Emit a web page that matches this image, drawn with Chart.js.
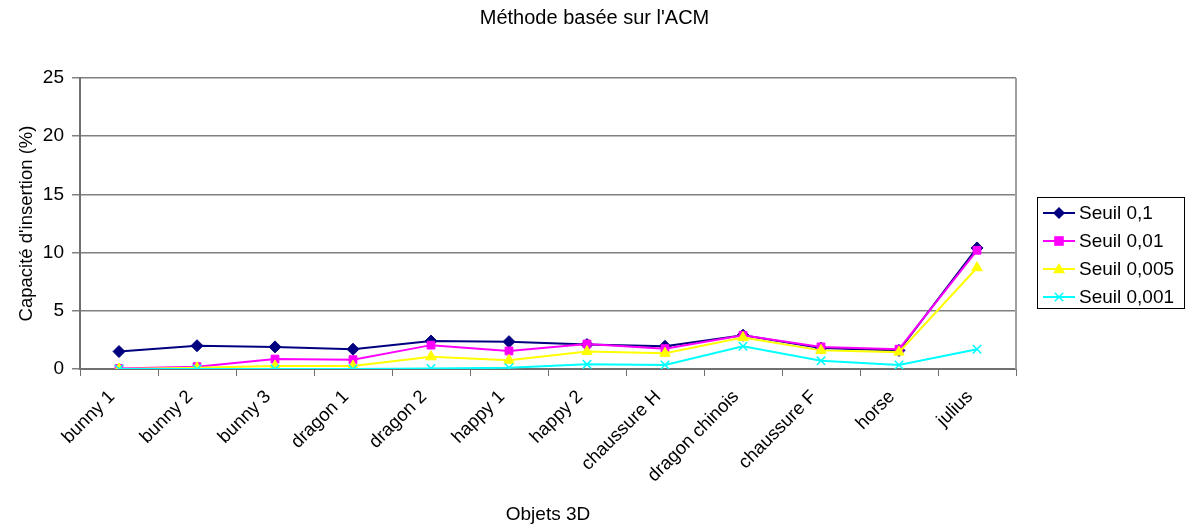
<!DOCTYPE html>
<html>
<head>
<meta charset="utf-8">
<script src="https://cdn.jsdelivr.net/npm/chart.js"></script>
<style>
  body { margin: 0; background: #fff; }
  #wrap { width: 1189px; height: 530px; }
</style>
</head>
<body>
<div id="wrap"><canvas id="chart" width="1189" height="530"></canvas></div>
<script>
// DATA
const objets = ["bunny 1", "bunny 2", "bunny 3", "dragon 1", "dragon 2", "happy 1",
  "happy 2", "chaussure H", "dragon chinois", "chaussure F", "horse", "julius"];

const seuil_01 = [1.5, 2.0, 1.9, 1.7, 2.4, 2.35, 2.1, 1.95, 2.9, 1.8, 1.6, 10.4];
const seuil_001 = [0.05, 0.2, 0.85, 0.8, 2.05, 1.55, 2.15, 1.75, 2.9, 1.9, 1.7, 10.2];
const seuil_0005 = [0, 0.1, 0.25, 0.25, 1.05, 0.75, 1.5, 1.35, 2.7, 1.6, 1.45, 8.7];
const seuil_0001 = [0, 0, 0, 0, 0.05, 0.1, 0.4, 0.35, 1.95, 0.7, 0.35, 1.7];

const y_ticks = [0, 5, 10, 15, 20, 25];

const FONT = "'Liberation Sans', Arial, sans-serif";
Chart.defaults.font.family = FONT;
Chart.defaults.color = "#000";

function serie(label, data, color, style, radius, order) {
  return {
    label: label,
    data: data,
    borderColor: color,
    backgroundColor: color,
    borderWidth: 2,
    pointStyle: style,
    pointRadius: radius,
    pointHoverRadius: radius,
    pointBorderWidth: style == "crossRot" ? 1.5 : 1,
    tension: 0,
    fill: false,
    order: order,
  };
}

// small marker for the legend
function drawMarker(ctx, style, x, y, r, color) {
  ctx.save();
  ctx.fillStyle = color;
  ctx.strokeStyle = color;
  ctx.lineWidth = 1.5;
  ctx.beginPath();
  if (style == "rectRot") {
    ctx.moveTo(x, y - r); ctx.lineTo(x + r, y); ctx.lineTo(x, y + r); ctx.lineTo(x - r, y);
    ctx.closePath(); ctx.fill();
  } else if (style == "rect") {
    ctx.rect(x - r * 0.8, y - r * 0.8, r * 1.6, r * 1.6); ctx.fill();
  } else if (style == "triangle") {
    ctx.moveTo(x, y - r); ctx.lineTo(x + r, y + r * 0.7); ctx.lineTo(x - r, y + r * 0.7);
    ctx.closePath(); ctx.fill();
  } else {
    ctx.moveTo(x - r * 0.7, y - r * 0.7); ctx.lineTo(x + r * 0.7, y + r * 0.7);
    ctx.moveTo(x + r * 0.7, y - r * 0.7); ctx.lineTo(x - r * 0.7, y + r * 0.7);
    ctx.stroke();
  }
  ctx.restore();
}

// legend box + right border of the plot
const excelLegend = {
  id: "excelLegend",
  afterDraw(chart) {
    const ctx = chart.ctx;
    const area = chart.chartArea;
    ctx.save();
    ctx.strokeStyle = "#a0a0a0";
    ctx.lineWidth = 2;
    ctx.beginPath();
    ctx.moveTo(area.right, area.top);
    ctx.lineTo(area.right, area.bottom);
    ctx.stroke();

    const left = area.right + 21, top = 197, w = 147, h = 111;
    ctx.strokeStyle = "#000";
    ctx.lineWidth = 1;
    ctx.strokeRect(left + 0.5, top + 0.5, w, h);
    ctx.font = "19px " + FONT;
    ctx.textBaseline = "middle";
    chart.data.datasets.forEach((ds, i) => {
      const y = top + 16 + i * 28;
      ctx.strokeStyle = ds.borderColor;
      ctx.lineWidth = 2;
      ctx.beginPath();
      ctx.moveTo(left + 6, y);
      ctx.lineTo(left + 38, y);
      ctx.stroke();
      drawMarker(ctx, ds.pointStyle, left + 22, y, 6, ds.borderColor);
      ctx.fillStyle = "#000";
      ctx.fillText(ds.label, left + 42, y + 1);
    });
    ctx.restore();
  }
};

const ctx = document.getElementById("chart").getContext("2d");
const my_chart = new Chart(ctx, {
  type: "line",
  data: {
    labels: objets,
    datasets: [
      serie("Seuil 0,1", seuil_01, "#000080", "rectRot", 6, 4),
      serie("Seuil 0,01", seuil_001, "#ff00ff", "rect", 5.5, 3),
      serie("Seuil 0,005", seuil_0005, "#ffff00", "triangle", 6, 2),
      serie("Seuil 0,001", seuil_0001, "#00ffff", "crossRot", 6, 1),
    ],
  },
  options: {
    responsive: false,
    animation: false,
    layout: { padding: 0 },
    plugins: {
      legend: { display: false },
      tooltip: { enabled: false },
      title: {
        display: true,
        text: "Méthode basée sur l'ACM",
        font: { size: 20, weight: "normal" },
        color: "#000",
        padding: { top: 6, bottom: 48 },
      },
    },
    scales: {
      x: {
        offset: true,
        afterFit(scale) { scale.height = 161; },
        grid: {
          offset: true,
          drawOnChartArea: false,
          drawTicks: true,
          tickLength: 7,
          color: "#707070",
        },
        border: { color: "#707070", width: 2 },
        ticks: {
          font: { size: 18.5 },
          color: "#000",
          minRotation: 45,
          maxRotation: 45,
          autoSkip: false,
          padding: 10,
          labelOffset: -7,
        },
        title: {
          display: true,
          text: "Objets 3D",
          font: { size: 19 },
          color: "#000",
          padding: { top: 4, bottom: 4 },
        },
      },
      y: {
        min: 0,
        max: 25,
        afterFit(scale) { scale.width = 80; },
        afterBuildTicks(scale) { scale.ticks = y_ticks.map(v => ({ value: v })); },
        grid: {
          color: "#808080",
          lineWidth: 1.5,
          tickLength: 8,
        },
        border: { color: "#707070", width: 2 },
        ticks: {
          font: { size: 19 },
          color: "#000",
          padding: 8,
        },
        title: {
          display: true,
          text: "Capacité d'insertion (%)",
          font: { size: 18.5 },
          color: "#000",
          padding: { top: 16, bottom: 0 },
        },
      },
      // empty right axis: keeps room for the legend while the title stays centred on the page
      y_legend: {
        position: "right",
        min: 0,
        max: 25,
        afterFit(scale) { scale.width = 173; },
        grid: { display: false },
        border: { display: false },
        ticks: { display: false },
      },
    },
  },
  plugins: [excelLegend],
});
</script>
</body>
</html>
